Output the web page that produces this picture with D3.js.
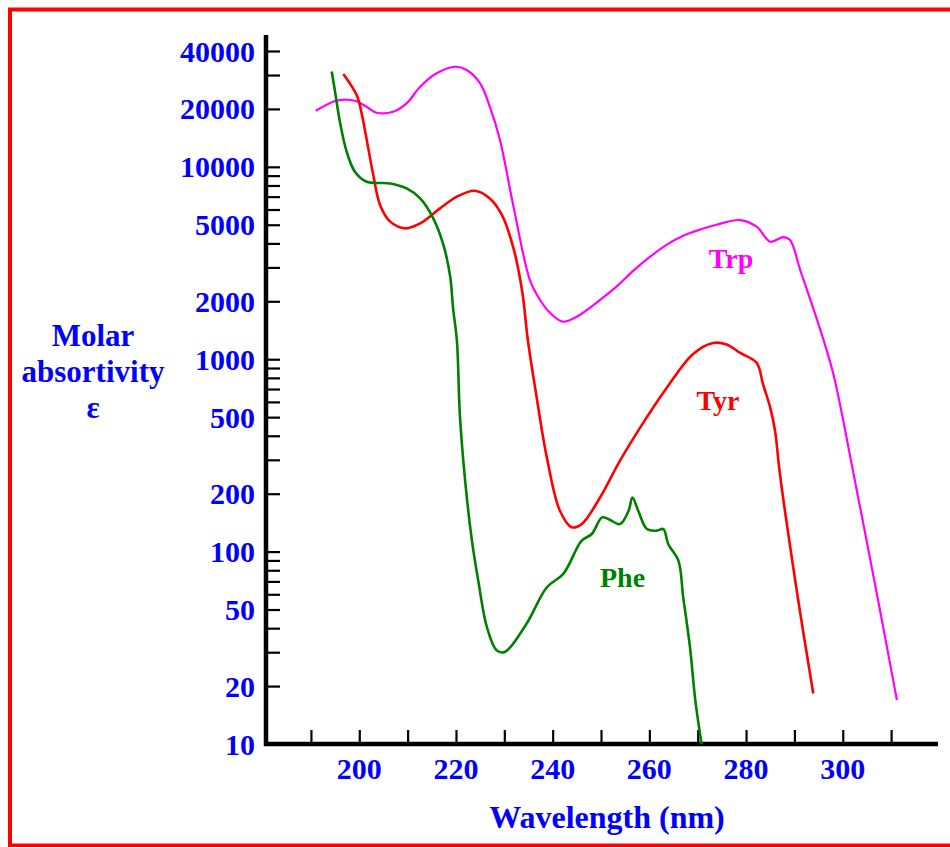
<!DOCTYPE html>
<meta charset="utf-8">
<script src="https://d3js.org/d3.v7.min.js"></script>
<style type="text/css">
body { margin: 0; background: #fff; }
text { font-family: "Liberation Serif", "DejaVu Serif", serif; font-weight: bold; }
</style>
<body></body>
<script>

// data (wavelength nm, molar absorptivity)
var trpWl  = [191.0, 195.0, 197.0, 199.3, 201.5, 203.6, 207.0, 209.8, 212.6, 216.0, 219.8, 222.2, 225.0, 227.0, 229.1, 231.9, 235.3, 237.4, 239.5, 242.1, 245.0, 249.8, 253.3, 256.6, 260.1, 263.7, 267.0, 270.5, 273.9, 278.8, 282.2, 285.0, 287.7, 289.1, 291.2, 294.7, 298.0, 302.2, 307.3, 311.2];
var trpEps = [19570, 21980, 22370, 21980, 20530, 19110, 19340, 21380, 26080, 30620, 33130, 31860, 27160, 20530, 13780, 6210, 2580, 2032, 1738, 1567, 1663, 2032, 2400, 2870, 3400, 3950, 4380, 4720, 5000, 5290, 4885, 4080, 4315, 4165, 2909, 1599, 848, 256, 56, 16.9];

var tyrWl  = [196.7, 199.5, 200.5, 201.5, 202.9, 204.3, 206.4, 209.5, 212.6, 216.7, 220.2, 223.9, 227.0, 229.5, 231.9, 233.7, 234.9, 236.7, 238.8, 241.5, 243.9, 246.0, 249.8, 253.9, 258.1, 263.6, 269.0, 273.2, 276.0, 278.8, 282.2, 283.5, 285.0, 286.0, 287.0, 290.8, 293.9];
var tyrEps = [30400, 23500, 18900, 14000, 9060, 6340, 5190, 4790, 5080, 6080, 7000, 7510, 6850, 5620, 3770, 2250, 1240, 631, 308, 163, 134, 139, 191, 296, 441, 710, 1062, 1214, 1192, 1078, 957, 742, 560, 424, 254, 55.7, 18.3];

var pheWl  = [194.3, 195.0, 196.0, 197.4, 199.1, 201.5, 206.4, 209.8, 212.6, 215.3, 217.4, 218.8, 219.4, 220.2, 220.8, 221.9, 223.3, 224.6, 226.4, 228.4, 230.1, 234.6, 238.8, 242.2, 246.0, 248.1, 250.2, 251.5, 253.9, 255.7, 256.5, 257.7, 259.5, 261.5, 262.9, 263.9, 266.0, 267.0, 268.4, 269.5, 270.8];
var pheEps = [31300, 24480, 17100, 11970, 9420, 8360, 8200, 7720, 6850, 5400, 3930, 2690, 1845, 1240, 517, 233, 114, 70.8, 40.5, 30.7, 30.1, 42.2, 65.3, 76.6, 114, 123.5, 150.6, 147.7, 139, 163, 191, 163, 131, 128.5, 131, 109.6, 89.8, 58, 31.9, 16.9, 10];

var series = [
  {name: "Trp", wl: trpWl, eps: trpEps, color: "#ff00ff", width: 2.2, lab: [276.9, 2980]},
  {name: "Tyr", wl: tyrWl, eps: tyrEps, color: "#ff0000", width: 2.6, lab: [274.2, 545]},
  {name: "Phe", wl: pheWl, eps: pheEps, color: "#008000", width: 2.6, lab: [254.45, 65.5]}
];

var xTickVals  = [190, 200, 210, 220, 230, 240, 250, 260, 270, 280, 290, 300, 310];
var xTickLabels = [200, 220, 240, 260, 280, 300];
var yTickLabels = [10, 20, 50, 100, 200, 500, 1000, 2000, 5000, 10000, 20000, 40000];

var width = 950, height = 847;

var svg = d3.select("body").append("svg")
    .attr("width", width)
    .attr("height", height);

// red frame (runs off right edge like the original)
svg.append("rect")
    .attr("x", 10).attr("y", 9.5)
    .attr("width", 980).attr("height", 836)
    .attr("fill", "#fff")
    .attr("stroke", "#ff0000")
    .attr("stroke-width", 4);

var xScale = d3.scaleLinear().domain([180.5, 319.7]).range([265, 938]);
var yScale = d3.scaleLog().domain([10, 40000]).range([744, 51]);

// minor y ticks 1..9 per decade
var yTickVals = [];
[10, 100, 1000, 10000].forEach(function(d) {
  for (var i = 1; i <= 9; i++) if (d * i <= 40000) yTickVals.push(d * i);
});

var yAxis = d3.axisRight(yScale).tickValues(yTickVals).tickSize(14).tickFormat("");
var yAxisGroup = svg.append("g")
    .attr("transform", "translate(266,0)")
    .call(yAxis);
yAxisGroup.select(".domain").remove();
yAxisGroup.selectAll(".tick line").attr("stroke", "#000").attr("stroke-width", 2.2);

var xAxis = d3.axisTop(xScale).tickValues(xTickVals).tickSize(14).tickFormat("");
var xAxisGroup = svg.append("g")
    .attr("transform", "translate(0,744)")
    .call(xAxis);
xAxisGroup.select(".domain").remove();
xAxisGroup.selectAll(".tick line").attr("stroke", "#000").attr("stroke-width", 2.2);

// axis lines
svg.append("line").attr("x1", 266).attr("x2", 266).attr("y1", 35).attr("y2", 746)
    .attr("stroke", "#000").attr("stroke-width", 4.5);
svg.append("line").attr("x1", 264).attr("x2", 938).attr("y1", 744).attr("y2", 744)
    .attr("stroke", "#000").attr("stroke-width", 4.5);

// tick labels
svg.selectAll(".ylab").data(yTickLabels).enter().append("text")
    .attr("class", "ylab")
    .attr("x", 255)
    .attr("y", function(d) { return yScale(d); })
    .attr("dy", "0.35em")
    .attr("text-anchor", "end")
    .attr("fill", "#0000ff")
    .style("font-size", "30px")
    .text(function(d) { return d; });

svg.selectAll(".xlab").data(xTickLabels).enter().append("text")
    .attr("class", "xlab")
    .attr("x", function(d) { return xScale(d); })
    .attr("y", 779)
    .attr("text-anchor", "middle")
    .attr("fill", "#0000ff")
    .style("font-size", "30px")
    .text(function(d) { return d; });

// axis titles
svg.append("text")
    .attr("x", 607).attr("y", 828)
    .attr("text-anchor", "middle")
    .attr("fill", "#0000ff")
    .style("font-size", "32px")
    .text("Wavelength (nm)");

var yTitle = ["Molar", "absortivity", "\u03b5"];
svg.selectAll(".ytitle").data(yTitle).enter().append("text")
    .attr("class", "ytitle")
    .attr("x", 93)
    .attr("y", function(d, i) { return 346 + i * 36; })
    .attr("text-anchor", "middle")
    .attr("fill", "#0000ff")
    .style("font-size", "31px")
    .text(function(d) { return d; });

// curves
var line = d3.line()
    .x(function(d) { return xScale(d[0]); })
    .y(function(d) { return yScale(d[1]); })
    .curve(d3.curveCatmullRom.alpha(0.5));

series.forEach(function(s) {
  var pts = s.wl.map(function(w, i) { return [w, s.eps[i]]; });
  svg.append("path")
      .datum(pts)
      .attr("d", line)
      .attr("fill", "none")
      .attr("stroke", s.color)
      .attr("stroke-width", s.width);

  svg.append("text")
      .attr("x", xScale(s.lab[0]))
      .attr("y", yScale(s.lab[1]))
      .attr("text-anchor", "middle")
      .attr("fill", s.color)
      .style("font-size", "28px")
      .text(s.name);
});

</script>
